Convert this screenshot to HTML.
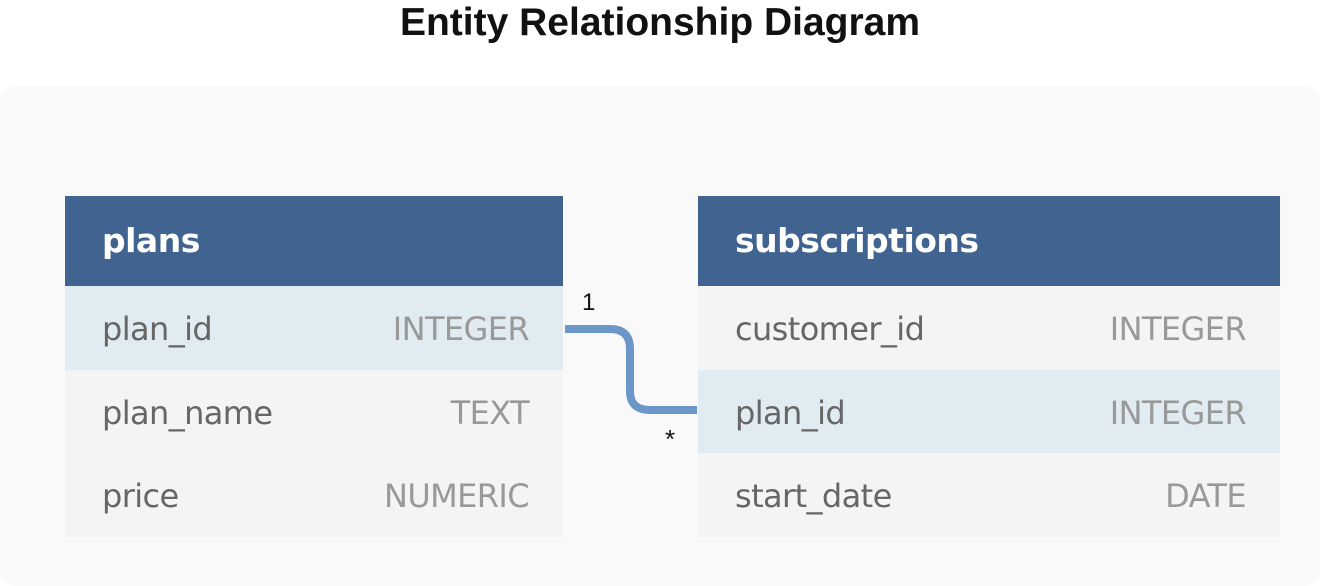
<!DOCTYPE html>
<html><head><style>
body{margin:0;width:1320px;height:574px;background:#fff;font-family:"DejaVu Sans","Liberation Sans",sans-serif;position:relative;overflow:hidden}
.title{position:absolute;top:0;left:0;width:1320px;text-align:center;font:bold 39px/46px "Liberation Sans",sans-serif;color:#111}
.bg{position:absolute;left:0;top:86px;width:1320px;height:500px;background:#f9f9f9;border-radius:16px}
.t{position:absolute;top:196px}
.h{height:90px;background:#40648f;color:#fff;font-weight:bold;font-size:33px;line-height:90px;padding-left:37px;box-sizing:border-box;letter-spacing:-0.5px}
.r{height:83.7px;background:#f4f4f4;position:relative;font-size:32px;line-height:86px;color:#666;letter-spacing:-0.6px}
.r.k{background:#e0ebf2}
.r .n{position:absolute;left:37px}
.r .ty{position:absolute;right:34px;color:#999}
.c{position:absolute;font:24px "Liberation Sans",sans-serif;color:#111}
</style></head><body>
<div class="title">Entity Relationship Diagram</div>
<div class="bg"></div>
<div class="t" style="left:65px;width:498px">
<div class="h">plans</div>
<div class="r k"><span class="n">plan_id</span><span class="ty">INTEGER</span></div>
<div class="r"><span class="n">plan_name</span><span class="ty">TEXT</span></div>
<div class="r"><span class="n">price</span><span class="ty">NUMERIC</span></div>
</div>
<div class="t" style="left:698px;width:582px">
<div class="h">subscriptions</div>
<div class="r"><span class="n">customer_id</span><span class="ty">INTEGER</span></div>
<div class="r k"><span class="n">plan_id</span><span class="ty">INTEGER</span></div>
<div class="r"><span class="n">start_date</span><span class="ty">DATE</span></div>
</div>
<svg style="position:absolute;left:0;top:0" width="1320" height="574">
<path d="M565 329 H610 Q630 329 630 349 V391 Q630 410 650 410 H697" fill="none" stroke="#6a97c7" stroke-width="8"/>
</svg>
<div class="c" style="left:582px;top:289px">1</div>
<div class="c" style="left:665px;top:424px;font-size:26px">*</div>
</body></html>
